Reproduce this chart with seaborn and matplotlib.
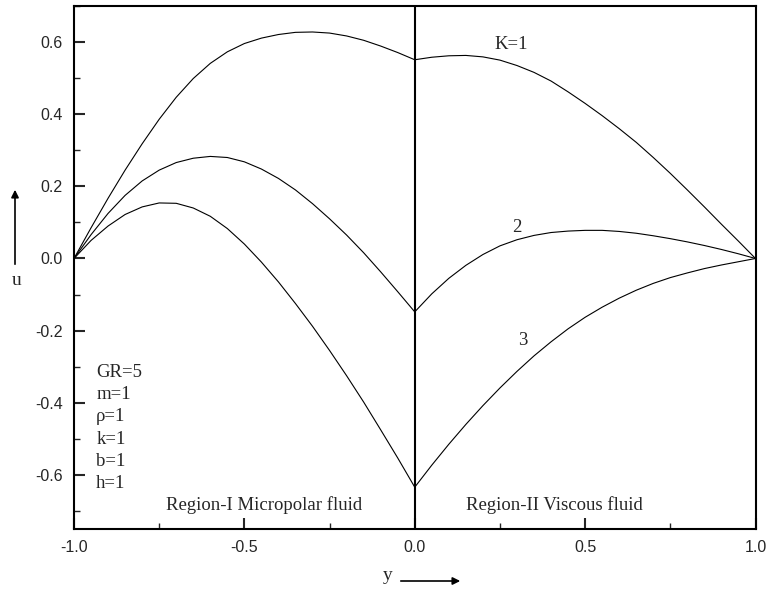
import numpy as np
import pandas as pd
import matplotlib
matplotlib.use("Agg")
import matplotlib.pyplot as plt
from matplotlib.ticker import MultipleLocator, FormatStrFormatter
from matplotlib.patches import FancyArrowPatch
import seaborn as sns

# Velocity profiles u(y) (step 0.05 in y)
y_left = [-1.00, -0.95, -0.90, -0.85, -0.80, -0.75, -0.70, -0.65, -0.60, -0.55, -0.50,
          -0.45, -0.40, -0.35, -0.30, -0.25, -0.20, -0.15, -0.10, -0.05, 0.00]
y_right = [0.00, 0.05, 0.10, 0.15, 0.20, 0.25, 0.30, 0.35, 0.40, 0.45, 0.50,
           0.55, 0.60, 0.65, 0.70, 0.75, 0.80, 0.85, 0.90, 0.95, 1.00]

# Region-I (micropolar fluid)
u1_left = [0.0, 0.085, 0.167, 0.245, 0.318, 0.386, 0.447, 0.499, 0.541, 0.573, 0.596,
           0.611, 0.621, 0.627, 0.628, 0.625, 0.617, 0.605, 0.589, 0.571, 0.551]
u2_left = [0.0, 0.066, 0.125, 0.175, 0.215, 0.245, 0.266, 0.278, 0.283, 0.280, 0.268,
           0.248, 0.222, 0.190, 0.152, 0.110, 0.065, 0.016, -0.037, -0.092, -0.148]
u3_left = [0.0, 0.05, 0.09, 0.122, 0.143, 0.154, 0.153, 0.14, 0.117, 0.083, 0.04,
           -0.01, -0.065, -0.125, -0.188, -0.255, -0.325, -0.398, -0.475, -0.553, -0.634]

# Region-II (viscous fluid)
u1_right = [0.551, 0.558, 0.562, 0.563, 0.559, 0.55, 0.535, 0.516, 0.492, 0.462, 0.43,
            0.396, 0.36, 0.322, 0.28, 0.236, 0.19, 0.143, 0.095, 0.048, 0.0]
u2_right = [-0.148, -0.098, -0.055, -0.019, 0.011, 0.035, 0.052, 0.064, 0.072, 0.076, 0.078,
            0.078, 0.075, 0.07, 0.063, 0.055, 0.046, 0.036, 0.025, 0.013, 0.0]
u3_right = [-0.634, -0.573, -0.515, -0.46, -0.408, -0.359, -0.313, -0.27, -0.231, -0.195, -0.163,
            -0.135, -0.11, -0.088, -0.069, -0.053, -0.04, -0.028, -0.018, -0.009, 0.0]

params = ["GR=5", "m=1", "\u03c1=1", "k=1", "b=1", "h=1"]

sns.set_style("ticks")
plt.rcParams['font.family'] = ['Liberation Sans', 'DejaVu Sans']

fig = plt.figure(figsize=(7.66, 5.90), dpi=100)
ax = fig.add_axes([0.0966, 0.1034, 0.8897, 0.8864])

segments = [(y_left, u1_left), (y_left, u2_left), (y_left, u3_left),
            (y_right, u1_right), (y_right, u2_right), (y_right, u3_right)]
for ys, us in segments:
    sns.lineplot(x=ys, y=us, ax=ax, color='black', linewidth=0.8, sort=False)

# interface between the two regions
ax.axvline(0.0, color='black', linewidth=1.5)

ax.set_xlim(-1.0, 1.0)
ax.set_ylim(-0.75, 0.70)
ax.xaxis.set_major_locator(MultipleLocator(0.5))
ax.xaxis.set_minor_locator(MultipleLocator(0.25))
ax.yaxis.set_major_locator(MultipleLocator(0.2))
ax.yaxis.set_minor_locator(MultipleLocator(0.1))
ax.xaxis.set_major_formatter(FormatStrFormatter('%.1f'))
ax.yaxis.set_major_formatter(FormatStrFormatter('%.1f'))
ax.tick_params(which='major', direction='in', length=8, width=1.5, labelsize=11.5, pad=8)
ax.tick_params(which='minor', direction='in', length=4, width=1.0)
for s in ax.spines.values():
    s.set_linewidth(1.5)
    s.set_color('black')
ax.set_xlabel("")
ax.set_ylabel("")

serif = ['Liberation Serif', 'DejaVu Serif']
fs = 13.5
ax.text(0.284, 0.593, "K=1", fontsize=fs, family=serif, ha='center', va='center')
ax.text(0.30, 0.086, "2", fontsize=fs, family=serif, ha='center', va='center')
ax.text(0.318, -0.226, "3", fontsize=fs, family=serif, ha='center', va='center')
ax.text(-0.443, -0.685, "Region-I Micropolar fluid", fontsize=fs, family=serif,
        ha='center', va='center')
ax.text(0.41, -0.685, "Region-II Viscous fluid", fontsize=fs, family=serif,
        ha='center', va='center')

for i, p in enumerate(params):
    ax.text(-0.935, -0.315 - i * 0.062, p, fontsize=fs, family=serif, ha='left', va='center')

# axis labels with arrows
fig.text(17 / 766, 1 - 280 / 590, "u", fontsize=14, family=serif, ha='center', va='center')
fig.text(388 / 766, 1 - 576 / 590, "y", fontsize=14, family=serif, ha='center', va='center')
fig.add_artist(FancyArrowPatch(
    (15 / 766, 1 - 267 / 590), (15 / 766, 1 - 187 / 590), transform=fig.transFigure,
    arrowstyle='-|>', mutation_scale=11, color='black', linewidth=1.2))
fig.add_artist(FancyArrowPatch(
    (398 / 766, 1 - 581 / 590), (463 / 766, 1 - 581 / 590), transform=fig.transFigure,
    arrowstyle='-|>', mutation_scale=11, color='black', linewidth=1.2))

fig.savefig("out.png", dpi=100)
